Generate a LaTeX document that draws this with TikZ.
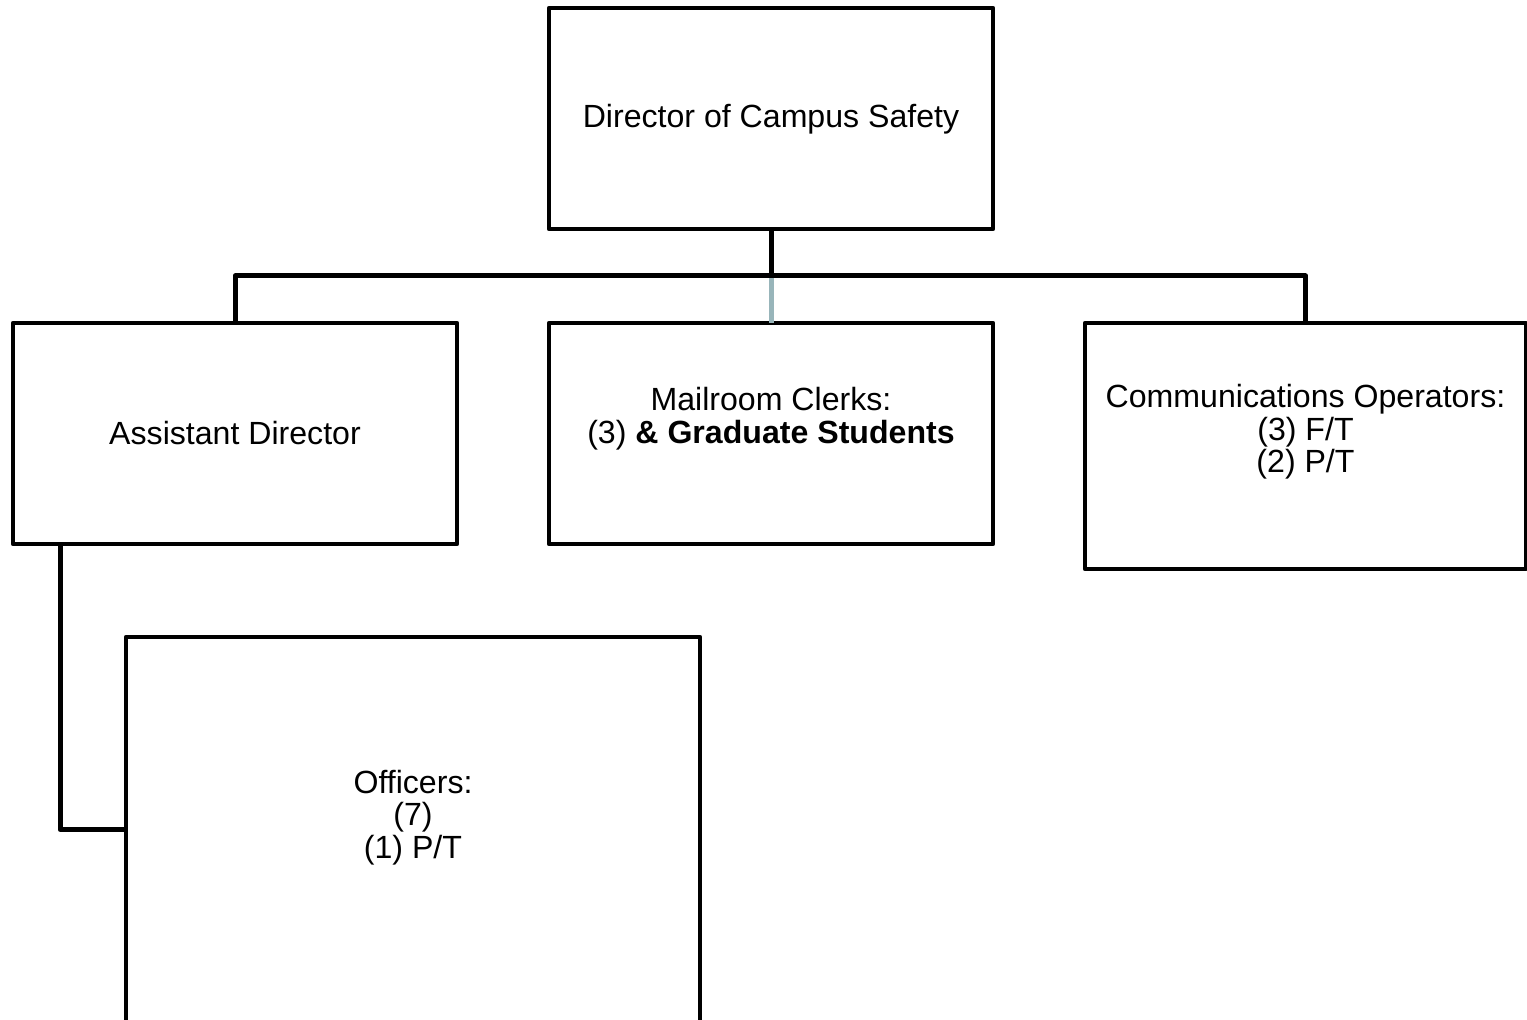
\documentclass[tikz,border=0pt]{standalone}
\usepackage{fontspec}
\setmainfont{Liberation Sans}
\usetikzlibrary{positioning}
\definecolor{linkgrey}{RGB}{152,181,186}

\begin{document}
\begin{tikzpicture}[x=0.5pt, y=-0.5pt, line join=round,
  box/.style={draw, line width=2.2pt, minimum width=222pt, minimum height=110.5pt, inner sep=0pt, outer sep=0pt},
  txt/.style={align=center, font=\fontsize{16.05}{16.3}\selectfont, inner sep=0pt},
  link/.style={line width=2.5pt}]
\useasboundingbox (0,0) rectangle (1527,1020);

% boxes
\node[box] (dir) at (771,118.5) {};
\node[box] (asst) at (235,433.5) {};
\node[box] (mail) at (771,433.5) {};
\node[box, minimum width=220.5pt, minimum height=123pt] (comm) at (1305.5,446) {};
\node[box, minimum width=287pt, minimum height=192.5pt] (offc) at (413,829.5) {};

% texts
\node[txt] (dirtxt) at ([yshift=-0.5pt]dir.center) {Director of Campus Safety};
\node[txt] (assttxt) at (asst.center) {Assistant Director};
\node[txt] (mailtxt) at ([yshift=7.5pt]mail.center) {Mailroom Clerks:\\(3) \textbf{\& Graduate Students}};
\node[txt] (commtxt) at ([yshift=7pt]comm.center) {Communications Operators:\\(3) F/T\\(2) P/T};
\node[txt] (offctxt) at ([yshift=6pt]offc.center) {Officers:\\(7)\\(1) P/T};

% connectors
\coordinate (bus) at (771,276);
\coordinate (asstdrop) at ([xshift=23.5pt]asst.south west);
\draw[link, linkgrey] (bus) -- (mail.north);
\draw[link] (dir.south) -- (bus);
\draw[link] (asst.north) |- (bus) -| (comm.north);
\draw[link] (asstdrop) |- (offc.west);
\end{tikzpicture}
\end{document}
